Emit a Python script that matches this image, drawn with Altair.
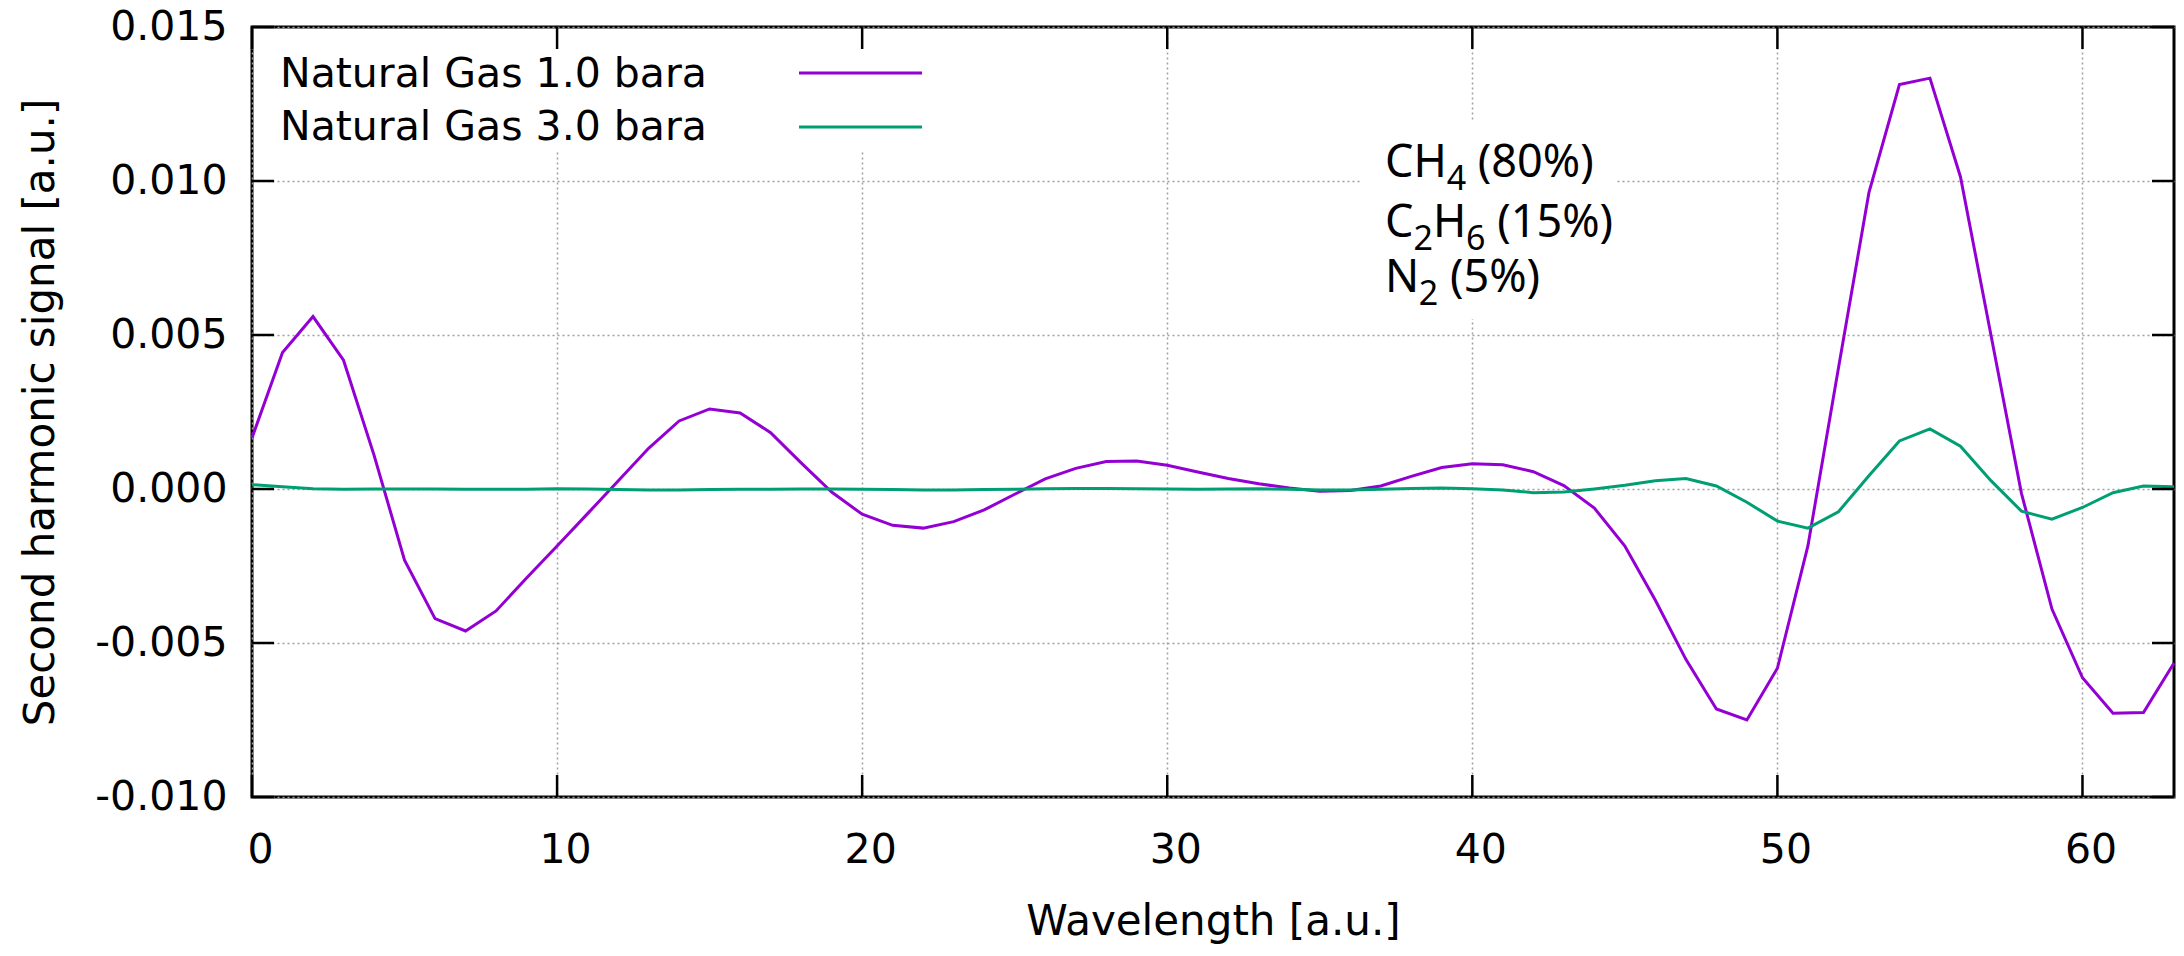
import altair as alt
import pandas as pd

# ---------------- data ----------------
x_vals = list(range(64))

ng_1bar = [
    0.00166, 0.00443, 0.00560, 0.00418, 0.00110, -0.00231, -0.00421, -0.00461,
    -0.00396, -0.00289, -0.00185, -0.00080, 0.00026, 0.00132, 0.00221, 0.00260,
    0.00247, 0.00183, 0.00085, -0.00010, -0.00082, -0.00118, -0.00127, -0.00106,
    -0.00068, -0.00017, 0.00033, 0.00067, 0.00089, 0.00091, 0.00077, 0.00055,
    0.00034, 0.00017, 0.00003, -0.00007, -0.00005, 0.00010, 0.00041, 0.00070,
    0.00082, 0.00079, 0.00056, 0.00011, -0.00062, -0.00185, -0.00361, -0.00553,
    -0.00714, -0.00750, -0.00582, -0.00185, 0.00392, 0.00962, 0.01313, 0.01334,
    0.01014, 0.00500, -0.00014, -0.00390, -0.00613, -0.00728, -0.00726, -0.00565,
]

ng_3bar = [
    0.00014, 0.00007, 0.00001, -0.00001, 0.00000, 0.00000, 0.00000, -0.00001,
    -0.00001, -0.00001, 0.00001, 0.00000, -0.00002, -0.00003, -0.00003, -0.00002,
    -0.00001, -0.00001, 0.00000, 0.00000, -0.00001, -0.00002, -0.00003, -0.00003,
    -0.00002, -0.00001, 0.00001, 0.00002, 0.00002, 0.00001, 0.00000, -0.00001,
    0.00000, 0.00001, -0.00001, -0.00003, -0.00003, -0.00001, 0.00002, 0.00003,
    0.00001, -0.00003, -0.00012, -0.00010, 0.00000, 0.00012, 0.00027, 0.00034,
    0.00010, -0.00043, -0.00104, -0.00127, -0.00074, 0.00043, 0.00156, 0.00195,
    0.00139, 0.00027, -0.00072, -0.00098, -0.00060, -0.00012, 0.00010, 0.00007,
]

series_names = ["Natural Gas 1.0 bara", "Natural Gas 3.0 bara"]
series_colors = ["#9400d3", "#009e73"]

x_ticks = [0, 10, 20, 30, 40, 50, 60]
y_ticks = [-0.010, -0.005, 0.0, 0.005, 0.010, 0.015]

# composition annotation: (text, is_subscript) pieces per line
annotation_rows = [
    [("CH", False), ("4", True), (" ", False), ("(80%)", False)],
    [("C", False), ("2", True), ("H", False), ("6", True), (" ", False), ("(15%)", False)],
    [("N", False), ("2", True), (" ", False), ("(5%)", False)],
]

x_title = "Wavelength [a.u.]"
y_title = "Second harmonic signal [a.u.]"

# ---------------- layout / style ----------------
PAD_L, PAD_T, PAD_R, PAD_B = 244, 19, 2, 147
W, H = 1922, 770
PX0, PY0 = PAD_L + 8, PAD_T + 8          # page position of the plot origin
FONT = "DejaVu Sans"
ANN_FONT = "Noto Sans"
ANN_SIZE, SUB_SIZE, SUB_DY = 45, 34, 13
TICK_LEN = 22

# approximate Noto Sans advance widths (em) for laying out sub/normal pieces
ADV = {"C": 0.632, "H": 0.738, "N": 0.751, " ": 0.26, "(": 0.296, ")": 0.296, "%": 0.817}
for d in "0123456789":
    ADV[d] = 0.572


def px(x_page):
    return x_page - PX0


def py(y_page):
    return y_page - PY0


df = pd.DataFrame({
    "x": x_vals * 2,
    "y": ng_1bar + ng_3bar,
    "series": [series_names[0]] * len(x_vals) + [series_names[1]] * len(x_vals),
})

xscale = alt.Scale(domain=[0, 63], nice=False, zero=False)
yscale = alt.Scale(domain=[-0.010, 0.015], nice=False, zero=False)

grid_style = dict(grid=True, gridColor="#a0a0a0", gridDash=[2, 3], gridWidth=1.5)

x_axis = alt.Axis(
    values=x_ticks, domain=False, ticks=False, tickSize=0,
    labelFont=FONT, labelFontSize=41, labelColor="black", labelPadding=33,
    labelOffset=8, labelFlush=False, labelOverlap=False,
    title=x_title, titleFont=FONT, titleFontSize=42, titleFontWeight="normal",
    titleColor="black", titleY=137, titleBaseline="alphabetic",
    **grid_style,
)
y_axis = alt.Axis(
    values=y_ticks, domain=False, ticks=False, tickSize=0,
    labelFont=FONT, labelFontSize=41, labelColor="black", labelPadding=25,
    labelExpr="replace(format(datum.value, '.3f'), '\u2212', '-')",
    labelOverlap=False, labelFlush=False,
    title=y_title, titleFont=FONT, titleFontSize=42, titleFontWeight="normal",
    titleColor="black", titleX=px(53), titleY=H / 2, titleAngle=270,
    titleAlign="center", titleBaseline="alphabetic",
    **grid_style,
)

one = pd.DataFrame({"a": [0]})

# opaque boxes behind legend and annotation (they interrupt the grid)
legend_bg = alt.Chart(one).mark_rect(color="white").encode(
    x=alt.value(2), x2=alt.value(px(940)), y=alt.value(2), y2=alt.value(py(152))
)
ann_bg = alt.Chart(one).mark_rect(color="white").encode(
    x=alt.value(px(1362)), x2=alt.value(px(1616)), y=alt.value(py(121)), y2=alt.value(py(319))
)

lines = alt.Chart(df).mark_line(strokeWidth=3).encode(
    x=alt.X("x:Q", scale=xscale, axis=x_axis),
    y=alt.Y("y:Q", scale=yscale, axis=y_axis),
    color=alt.Color("series:N", scale=alt.Scale(domain=series_names, range=series_colors), legend=None),
)

xt = pd.DataFrame({"x": x_ticks})
yt = pd.DataFrame({"y": y_ticks})
tick_style = dict(color="black", strokeWidth=2.5)

ticks_bottom = alt.Chart(xt).mark_rule(**tick_style).encode(
    x=alt.X("x:Q", scale=xscale), y=alt.value(H), y2=alt.value(H - TICK_LEN)
)
ticks_top = alt.Chart(xt).mark_rule(**tick_style).encode(
    x=alt.X("x:Q", scale=xscale), y=alt.value(0), y2=alt.value(TICK_LEN)
)
ticks_left = alt.Chart(yt).mark_rule(**tick_style).encode(
    y=alt.Y("y:Q", scale=yscale), x=alt.value(0), x2=alt.value(TICK_LEN)
)
ticks_right = alt.Chart(yt).mark_rule(**tick_style).encode(
    y=alt.Y("y:Q", scale=yscale), x=alt.value(W), x2=alt.value(W - TICK_LEN)
)

layers = [legend_bg, ann_bg, lines, ticks_bottom, ticks_top, ticks_left, ticks_right]

# manual legend (gnuplot style: label left, sample right)
legend_text_y = [87, 140]
legend_line_y = [73, 127]
for name, col, ty, ly in zip(series_names, series_colors, legend_text_y, legend_line_y):
    layers.append(
        alt.Chart(pd.DataFrame({"label": [name]})).mark_text(
            align="left", baseline="alphabetic", font=FONT, fontSize=41, color="black"
        ).encode(text="label:N", x=alt.value(px(280)), y=alt.value(py(ty)))
    )
    layers.append(
        alt.Chart(one).mark_rule(color=col, strokeWidth=3).encode(
            x=alt.value(px(799)), x2=alt.value(px(922)), y=alt.value(py(ly))
        )
    )

# composition annotation with real subscripts
ann_x0 = 1385
ann_base = [177, 237, 292]
for row, base in zip(annotation_rows, ann_base):
    cx = ann_x0
    for txt, sub in row:
        size = SUB_SIZE if sub else ANN_SIZE
        if txt.strip():
            layers.append(
                alt.Chart(pd.DataFrame({"t": [txt]})).mark_text(
                    align="left", baseline="alphabetic", font=ANN_FONT,
                    fontSize=size, color="black",
                ).encode(text="t:N", x=alt.value(px(cx)), y=alt.value(py(base + (SUB_DY if sub else 0))))
            )
        cx += sum(ADV.get(ch, 0.6) for ch in txt) * size

chart = alt.layer(*layers).properties(
    width=W,
    height=H,
    autosize=alt.AutoSizeParams(type="none"),
    padding={"left": PAD_L, "top": PAD_T, "right": PAD_R, "bottom": PAD_B},
    background="white",
).configure_view(stroke="black", strokeWidth=3)

chart.save("out.html", embed_options={"renderer": "svg", "actions": False})
